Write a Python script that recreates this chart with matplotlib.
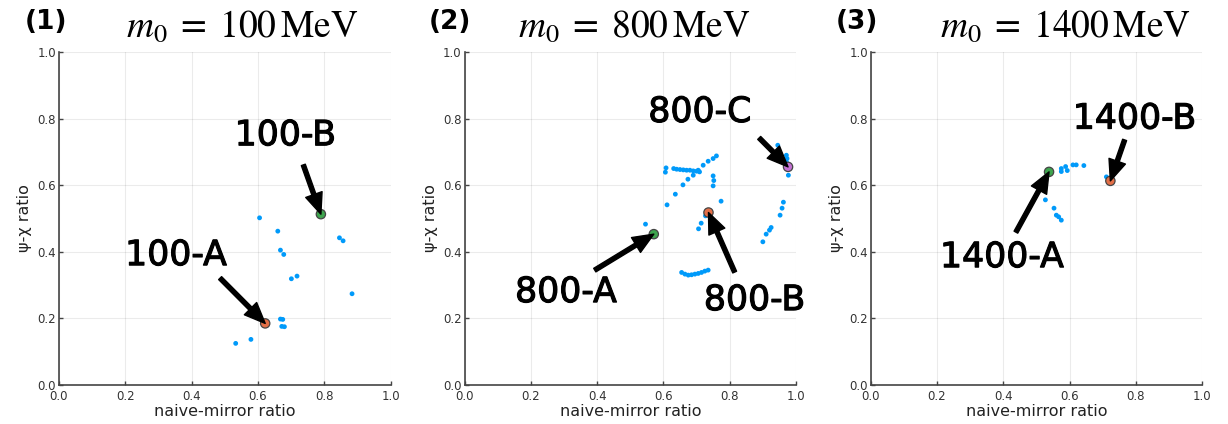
import matplotlib
matplotlib.use("Agg")
import matplotlib.pyplot as plt
import matplotlib.patheffects as pe

plt.rcParams['mathtext.fontset'] = 'stix'

# ---------------- data ----------------
# panel 1 : m0 = 100 MeV
p1_x = [0.605, 0.660, 0.668, 0.678, 0.701, 0.718, 0.846, 0.857, 0.884,
        0.668, 0.675, 0.672, 0.680, 0.579, 0.533, 0.786]
p1_y = [0.502, 0.462, 0.405, 0.392, 0.319, 0.327, 0.442, 0.433, 0.274,
        0.198, 0.197, 0.176, 0.175, 0.137, 0.125, 0.513]
p1_hl_x = [0.622, 0.790]
p1_hl_y = [0.185, 0.513]
p1_hl_c = ['#E36F47', '#3EA44E']
p1_labels = ['100-A', '100-B']

# panel 2 : m0 = 800 MeV
p2_x = [0.546,
        0.655, 0.665, 0.675, 0.685, 0.695, 0.705, 0.715, 0.725, 0.735,
        0.631, 0.640, 0.650, 0.660, 0.670, 0.680, 0.690, 0.700, 0.709,
        0.674, 0.690, 0.705, 0.720, 0.735, 0.750, 0.760,
        0.608, 0.606, 0.750, 0.752, 0.750, 0.659, 0.636, 0.611, 0.774,
        0.727, 0.714, 0.706,
        0.962, 0.958, 0.952, 0.925, 0.920, 0.910, 0.900,
        0.971, 0.973, 0.971, 0.977, 0.945]
p2_y = [0.483,
        0.338, 0.333, 0.330, 0.331, 0.333, 0.335, 0.338, 0.342, 0.345,
        0.650, 0.648, 0.647, 0.646, 0.645, 0.645, 0.643, 0.642, 0.640,
        0.618, 0.630, 0.645, 0.660, 0.672, 0.680, 0.688,
        0.652, 0.639, 0.628, 0.614, 0.598, 0.601, 0.573, 0.541, 0.552,
        0.508, 0.486, 0.469,
        0.549, 0.531, 0.510, 0.473, 0.465, 0.453, 0.430,
        0.690, 0.680, 0.670, 0.630, 0.720]
p2_hl_x = [0.571, 0.736, 0.976]
p2_hl_y = [0.453, 0.518, 0.655]
p2_hl_c = ['#3EA44E', '#E36F47', '#C371D2']
p2_labels = ['800-A', '800-B', '800-C']

# panel 3 : m0 = 1400 MeV
p3_x = [0.711, 0.575, 0.575, 0.588, 0.593, 0.610, 0.620, 0.643,
        0.527, 0.553, 0.560, 0.567, 0.575]
p3_y = [0.625, 0.650, 0.641, 0.656, 0.644, 0.661, 0.661, 0.659,
        0.556, 0.531, 0.510, 0.505, 0.495]
p3_hl_x = [0.538, 0.723]
p3_hl_y = [0.640, 0.613]
p3_hl_c = ['#3EA44E', '#E36F47']
p3_labels = ['1400-A', '1400-B']

panel_tags = ['(1)', '(2)', '(3)']
titles = [r'$m_0\;=\;100\,\mathrm{MeV}$', r'$m_0\;=\;800\,\mathrm{MeV}$',
          r'$m_0\;=\;1400\,\mathrm{MeV}$']
ticks = [0.0, 0.2, 0.4, 0.6, 0.8, 1.0]
tick_labels = ['0.0', '0.2', '0.4', '0.6', '0.8', '1.0']

# label text position, arrow tail position (data coords) for each highlight
p1_text = [(0.353, 0.39), (0.683, 0.75)]
p1_tail = [(0.486, 0.321), (0.737, 0.661)]
p2_text = [(0.306, 0.279), (0.875, 0.255), (0.71, 0.82)]
p2_tail = [(0.393, 0.345), (0.815, 0.339), (0.889, 0.742)]
p3_text = [(0.396, 0.384), (0.796, 0.80)]
p3_tail = [(0.438, 0.459), (0.766, 0.736)]

# ---------------- figure ----------------
fig = plt.figure(figsize=(12.28, 4.24), dpi=100)
lefts = [59 / 1228, 464.5 / 1228, 870.7 / 1228]
bottom = 39 / 424
width = 331.5 / 1228
height = 333 / 424

panels = [
    (p1_x, p1_y, p1_hl_x, p1_hl_y, p1_hl_c, p1_labels, p1_text, p1_tail),
    (p2_x, p2_y, p2_hl_x, p2_hl_y, p2_hl_c, p2_labels, p2_text, p2_tail),
    (p3_x, p3_y, p3_hl_x, p3_hl_y, p3_hl_c, p3_labels, p3_text, p3_tail),
]
tag_x = [46, 450, 857]
title_x = [242.5, 634.5, 1066]

for i, (px, py, hx, hy, hc, labs, tpos, tail) in enumerate(panels):
    ax = fig.add_axes([lefts[i], bottom, width, height])
    ax.set_xlim(0, 1)
    ax.set_ylim(0, 1)
    ax.set_xticks(ticks)
    ax.set_yticks(ticks)
    ax.set_xticklabels(tick_labels)
    ax.set_yticklabels(tick_labels)
    ax.grid(True, color='#000000', alpha=0.08, lw=0.8)
    ax.set_axisbelow(True)
    for s in ['top', 'right']:
        ax.spines[s].set_visible(False)
    for s in ['left', 'bottom']:
        ax.spines[s].set_color('#444444')
        ax.spines[s].set_linewidth(1.2)
    ax.tick_params(direction='in', length=3, width=1, color='#444444',
                   labelsize=8.5, labelcolor='#333333', pad=2)
    ax.tick_params(axis='x', pad=3.5)
    ax.set_xlabel('naive-mirror ratio', fontsize=11.5, color='#222222',
                  labelpad=1)
    ax.set_ylabel('ψ-χ ratio', fontsize=11.5, color='#222222', labelpad=4)

    ax.scatter(px, py, s=12, color='#009AFA', edgecolors='none', zorder=3)
    ax.scatter(hx, hy, s=45, color=hc, edgecolors='#444444',
               linewidths=0.9, zorder=4)
    for (x0, y0), lab, (tx, ty), (ax0, ay0) in zip(zip(hx, hy), labs, tpos, tail):
        ax.text(tx, ty, lab, fontsize=25, ha='center', va='center',
                color='black', zorder=6,
                path_effects=[pe.withStroke(linewidth=0.8, foreground='black')])
        ax.annotate('', xy=(x0, y0), xytext=(ax0, ay0),
                    arrowprops=dict(facecolor='black', edgecolor='black',
                                    width=3, headwidth=12.5, headlength=15,
                                    shrink=0.0, shrinkA=0, shrinkB=4),
                    zorder=5)

    fig.text(tag_x[i] / 1228, 1 - 22 / 424, panel_tags[i], fontsize=19,
             fontweight='bold', ha='center', va='center')
    fig.text(title_x[i] / 1228, 1 - 37 / 424, titles[i], fontsize=27,
             ha='center', va='baseline')

fig.savefig('out.png', dpi=100)
